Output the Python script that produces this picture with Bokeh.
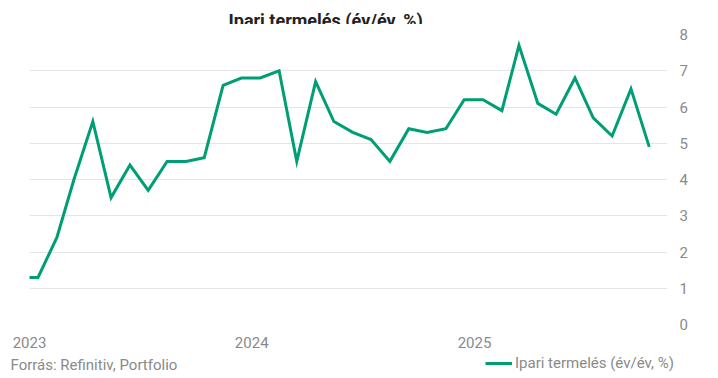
import pandas as pd
from bokeh.plotting import figure
from bokeh.layouts import column
from bokeh.models import (Range1d, FixedTicker, DatetimeTickFormatter, Legend,
                          LegendItem, Label, ColumnDataSource)
from bokeh.embed import file_html
from bokeh.resources import INLINE

# ---- data ----
months = pd.date_range("2022-12-01", periods=35, freq="MS") + pd.Timedelta(days=14)
values = [1.3,
          1.3, 2.4, 4.0, 5.6, 3.5, 4.4, 3.7, 4.5, 4.5, 4.6, 6.6, 6.8,
          6.8, 7.0, 4.5, 6.7, 5.6, 5.3, 5.1, 4.5, 5.4, 5.3, 5.4, 6.2,
          6.2, 5.9, 7.7, 6.1, 5.8, 6.8, 5.7, 5.2, 6.5, 4.9]
series_name = "Ipari termelés (év/év, %)"
title_text = "Ipari termelés (év/év, %)"
source_text = "Forrás: Refinitiv, Portfolio"
year_ticks = ["2023-01-01", "2024-01-01", "2025-01-01"]
y_ticks = [0, 1, 2, 3, 4, 5, 6, 7, 8]

# ---- style ----
x_start = pd.Timestamp("2023-01-01")
x_end = pd.Timestamp("2025-11-14")
FONT = "Roboto"
GRAY = "#8a8a8a"
GREEN = "#009e74"
LINE_W = 3


def strip(height):
    s = figure(width=718, height=height, output_backend="svg",
               toolbar_location=None, x_range=Range1d(0, 718),
               y_range=Range1d(0, height), min_border=0,
               x_axis_location=None, y_axis_location=None)
    s.frame_align = False
    s.outline_line_color = None
    s.grid.grid_line_color = None
    s.border_fill_color = "white"
    s.background_fill_color = "white"
    return s


# ---- header strip: title ----
h = strip(24)
h.add_layout(Label(x=228, y=4, text=title_text, text_align="left",
                   text_baseline="alphabetic", text_font=FONT,
                   text_font_size="18px", text_font_style="bold",
                   text_color="#222222"))

# ---- main chart ----
p = figure(width=718, height=330, output_backend="svg", toolbar_location=None,
           x_axis_type="datetime", y_axis_location="right",
           x_range=Range1d(x_start, x_end), y_range=Range1d(0, 8),
           min_border_left=29, min_border_right=51, min_border_top=10,
           min_border_bottom=30)
p.frame_align = False
p.outline_line_color = None
p.background_fill_color = "white"
p.border_fill_color = "white"

src = ColumnDataSource(dict(x=months, y=values))
r = p.line("x", "y", source=src, line_color=GREEN, line_width=LINE_W,
           line_join="miter")

xa = p.xaxis[0]
xa.ticker = FixedTicker(ticks=[pd.Timestamp(t).value // 10**6 for t in year_ticks])
xa.formatter = DatetimeTickFormatter(years="%Y", months="%Y", days="%Y",
                                     hours="%Y", minutes="%Y", seconds="%Y")
ya = p.yaxis[0]
ya.ticker = FixedTicker(ticks=y_ticks)
for ax in (xa, ya):
    ax.axis_line_color = None
    ax.major_tick_line_color = None
    ax.minor_tick_line_color = None
    ax.major_tick_out = 0
    ax.major_tick_in = 0
    ax.minor_tick_out = 0
    ax.major_label_text_color = GRAY
    ax.major_label_text_font = FONT
    ax.major_label_text_font_size = "15px"
xa.major_label_standoff = 12
ya.major_label_standoff = 12

p.xgrid.grid_line_color = None
p.ygrid.grid_line_color = "#e5e5e5"
p.ygrid.grid_line_width = 1

# ---- footer strip: source note + legend ----
f = strip(24)
# legend key: same series drawn in the strip (its dates lie outside this strip's range)
proxy = f.line("x", "y", source=src, line_color=GREEN, line_width=LINE_W)
f.add_layout(Label(x=10, y=14, text=source_text, text_align="left",
                   text_baseline="alphabetic", text_font=FONT,
                   text_font_size="15px", text_color=GRAY))
legend = Legend(items=[LegendItem(label=series_name, renderers=[proxy])],
                location=(485, 5), orientation="horizontal",
                border_line_color=None, background_fill_alpha=0,
                padding=0, margin=0, label_standoff=3, glyph_width=27,
                label_text_font=FONT, label_text_font_size="15px",
                label_text_color=GRAY)
f.add_layout(legend, "center")

layout = column(h, p, f, spacing=0)
open("out.html", "w").write(file_html(layout, INLINE))
